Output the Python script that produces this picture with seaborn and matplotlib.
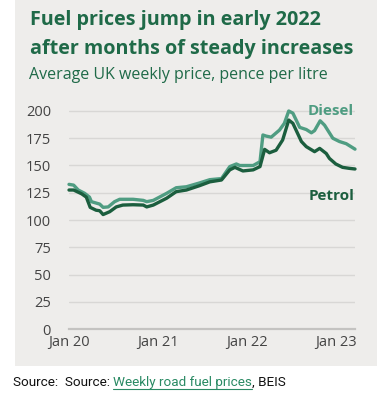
import matplotlib
matplotlib.use("Agg")
import matplotlib.pyplot as plt
import matplotlib.patches as mpatches
from matplotlib.lines import Line2D
import pandas as pd
import seaborn as sns

# weekly prices (pence per litre)
diesel_dates = ["2020-01-01", "2020-01-20", "2020-02-08", "2020-03-05", "2020-03-25",
                "2020-04-02", "2020-05-06", "2020-05-20", "2020-06-10", "2020-07-06",
                "2020-07-27", "2020-09-20", "2020-11-01", "2020-11-15", "2020-12-12",
                "2021-02-05", "2021-03-16", "2021-04-27", "2021-06-20", "2021-08-01",
                "2021-09-18", "2021-10-22", "2021-11-18", "2021-12-02", "2022-01-26",
                "2022-02-23", "2022-03-07", "2022-03-20", "2022-04-10", "2022-05-14",
                "2022-06-03", "2022-06-21", "2022-07-08", "2022-08-05", "2022-09-01",
                "2022-09-22", "2022-10-05", "2022-10-28", "2022-11-15", "2022-12-19",
                "2023-01-15", "2023-02-12", "2023-03-20"]
diesel = [132.7, 132, 127.5, 124.5, 121,
          116.8, 114.6, 111.6, 112, 116.8,
          119, 119, 118, 116.8, 118,
          124.5, 129.6, 130.5, 134, 137,
          138, 149, 151.4, 150, 150,
          153.5, 178, 177, 176, 182.5,
          188.7, 200, 198, 185, 183,
          180, 182, 191, 187, 175,
          172, 170, 165]

petrol_dates = ["2020-01-01", "2020-01-20", "2020-02-22", "2020-03-12", "2020-03-28",
                "2020-04-21", "2020-05-06", "2020-05-20", "2020-06-16", "2020-07-13",
                "2020-08-09", "2020-09-20", "2020-11-01", "2020-11-15", "2020-12-12",
                "2021-02-05", "2021-03-16", "2021-04-27", "2021-06-20", "2021-08-01",
                "2021-09-18", "2021-10-22", "2021-11-12", "2021-12-15", "2022-01-26",
                "2022-02-23", "2022-03-14", "2022-04-03", "2022-04-30", "2022-05-27",
                "2022-06-21", "2022-07-08", "2022-08-12", "2022-09-01", "2022-10-05",
                "2022-10-26", "2022-11-22", "2022-12-05", "2022-12-31", "2023-01-28",
                "2023-02-24", "2023-03-20"]
petrol = [127.5, 127.5, 124, 121, 111.6,
          109, 108.5, 105, 107.6, 112,
          113.7, 114, 113.7, 112, 113.7,
          120, 126, 127.5, 131.5, 135,
          136.7, 146, 148.3, 145, 146,
          149, 164.8, 161.7, 164, 173.4,
          191.7, 188.7, 172, 167.3, 162.7,
          165.7, 161, 156.5, 151.4, 148.3,
          147.4, 146.8]

y_ticks = [0, 25, 50, 75, 100, 125, 150, 175, 200]
x_ticks = ["2020-01-01", "2021-01-01", "2022-01-01", "2023-01-01"]
x_labels = ["Jan 20", "Jan 21", "Jan 22", "Jan 23"]

df_diesel = pd.DataFrame({"date": pd.to_datetime(diesel_dates), "price": diesel})
df_petrol = pd.DataFrame({"date": pd.to_datetime(petrol_dates), "price": petrol})

DIESEL_C = "#4f9d82"
PETROL_C = "#1b5e3e"
TITLE_C = "#1f6a48"
PANEL_C = "#eeedeb"

sns.set_style("white")
plt.rcParams["font.family"] = ["Open Sans", "DejaVu Sans"]

W, H = 391, 411
fig = plt.figure(figsize=(W / 100, H / 100), dpi=100)
fig.patch.set_facecolor("white")

# grey panel behind title and chart
fig.patches.append(mpatches.Rectangle((15 / W, 1 - 366 / H), 362 / W, 366 / H,
                                      transform=fig.transFigure, facecolor=PANEL_C,
                                      edgecolor="none", zorder=-10))

ax = fig.add_axes([69 / W, 82 / H, 286 / W, (329 - 109) / H])
ax.set_facecolor("none")
ax.set_zorder(1)

sns.lineplot(data=df_diesel, x="date", y="price", ax=ax, color=DIESEL_C, linewidth=2.4)
sns.lineplot(data=df_petrol, x="date", y="price", ax=ax, color=PETROL_C, linewidth=2.4)
for ln in ax.lines:
    ln.set_clip_on(False)
    ln.set_solid_joinstyle("round")

ax.set_ylim(0, 200 * 220 / 218)
ax.set_xlim(pd.Timestamp("2020-01-01"), pd.Timestamp("2023-03-20"))
ax.set_yticks(y_ticks)
ax.set_xticks(pd.to_datetime(x_ticks))
ax.set_xticklabels(x_labels)
ax.yaxis.grid(True, color="#d8d7d5", linewidth=1.0)
ax.set_axisbelow(True)
for s in ["top", "right", "left"]:
    ax.spines[s].set_visible(False)
ax.spines["bottom"].set_color("#c4c3c1")
ax.spines["bottom"].set_linewidth(1.6)
ax.tick_params(axis="y", length=0, pad=13, labelsize=10.5, labelcolor="#444444")
ax.tick_params(axis="x", direction="in", length=3, color="#c4c3c1", width=1,
               pad=4, labelsize=10.5, labelcolor="#444444")
ax.set_xlabel("")
ax.set_ylabel("")

ax.text(pd.Timestamp("2023-03-16"), 200, "Diesel", color=DIESEL_C, fontsize=11,
        fontweight="bold", ha="right", va="center")
ax.text(pd.Timestamp("2023-03-16"), 122, "Petrol", color=PETROL_C, fontsize=11,
        fontweight="bold", ha="right", va="center")

fig.text(30 / W, 1 - 20 / H, "Fuel prices jump in early 2022", color=TITLE_C,
         fontsize=14.2, fontweight="bold", va="center", ha="left")
fig.text(30 / W, 1 - 49 / H, "after months of steady increases", color=TITLE_C,
         fontsize=14.2, fontweight="bold", va="center", ha="left")
fig.text(29 / W, 1 - 75 / H, "Average UK weekly price, pence per litre", color=TITLE_C,
         fontsize=11.5, va="center", ha="left")

# source line, pieced together so the link part can be green and underlined
renderer = fig.canvas.get_renderer()
x = 13
y = 1 - 382 / H
parts = [("Source:  Source: ", "#111111"), ("Weekly road fuel prices", "#2a8a64"), (", BEIS", "#111111")]
for txt, col in parts:
    t = fig.text(x / W, y, txt, color=col, fontsize=9.7, va="center", ha="left",
                 family=["Roboto", "DejaVu Sans"])
    bb = t.get_window_extent(renderer)
    if txt.startswith("Weekly"):
        fig.lines.append(Line2D([x / W, (x + bb.width) / W], [y - 7 / H, y - 7 / H],
                                transform=fig.transFigure, color=col, linewidth=0.8))
    x += bb.width

fig.savefig("out.png", dpi=100)
